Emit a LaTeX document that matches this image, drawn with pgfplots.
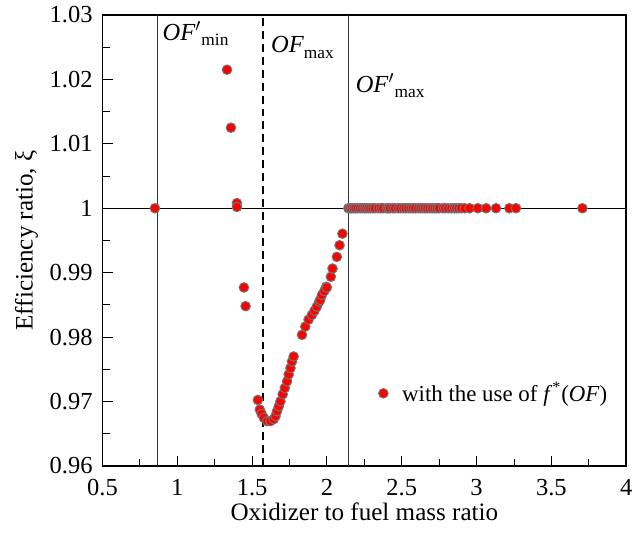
\documentclass[border=0pt]{standalone}
\usepackage{fontspec}
\setmainfont{Liberation Serif}
\usepackage{pgfplots}
\pgfplotsset{compat=1.18}
\begin{document}
\begin{tikzpicture}
\begin{axis}[
  name=ax,
  scale only axis,
  width=263pt, height=226.5pt,
  xmin=0.5, xmax=4, ymin=0.96, ymax=1.03,
  xtick={0.5,1,...,4},
  ytick={0.96,0.97,...,1.03},
  minor x tick num=1, minor y tick num=1,
  xtick pos=left, ytick pos=left,
  tick align=inside,
  major tick length=5pt, minor tick length=3.5pt,
  every tick/.style={black, line width=0.5pt},
  axis line style={line width=0.8pt},
  /pgf/number format/assume math mode=true,
  yticklabel style={/pgf/number format/fixed, /pgf/number format/precision=2, xshift=-1.5pt},
  xticklabel style={/pgf/number format/fixed, yshift=-3pt},
  tick label style={font=\fontsize{12.3}{14}\selectfont},
  label style={font=\fontsize{12.6}{15}\selectfont},
  xlabel={Oxidizer to fuel mass ratio},
  ylabel={Efficiency ratio, ξ},
  xlabel style={yshift=3pt},
  ylabel style={yshift=-1pt},
  clip=false,
  legend style={at={(0.515,0.161)}, anchor=west, draw=none, fill=none, font=\fontsize{11.5}{13}\selectfont},
  legend cell align=left,
]
\addplot[black, line width=0.5pt, forget plot] coordinates {(0.5,1) (4,1)};
\addplot[black!80, line width=0.5pt, forget plot] coordinates {(0.866,0.96) (0.866,1.03)};
\addplot[black!80, line width=0.5pt, forget plot] coordinates {(2.143,0.96) (2.143,1.03)};
\addplot[black, line width=0.8pt, dash pattern=on 4pt off 2.5pt, forget plot] coordinates {(1.571,0.96) (1.571,1.03)};
\addplot[only marks, mark=*, mark size=2.4pt, mark options={fill=red, draw=black!55, line width=0.5pt}] coordinates {
(0.850,1.0000)
(1.332,1.0215) (1.358,1.0125) (1.398,1.0008) (1.398,1.0002) (1.445,0.9877) (1.456,0.9848)
(1.538,0.97024) (1.551,0.96875) (1.563,0.96808) (1.578,0.96746) (1.600,0.96695) (1.622,0.96695)
(1.644,0.96726) (1.656,0.96774) (1.666,0.96850) (1.678,0.96927) (1.689,0.97004) (1.704,0.97112)
(1.718,0.97210) (1.733,0.97313) (1.744,0.97421) (1.756,0.97519) (1.766,0.97622) (1.777,0.97699)
(1.833,0.98035) (1.855,0.98163) (1.877,0.98271) (1.899,0.98344) (1.917,0.98410) (1.932,0.98472)
(1.948,0.98549) (1.955,0.98576) (1.966,0.98653) (1.982,0.98715) (1.995,0.98781) (1.999,0.98770)
(2.026,0.98936) (2.037,0.99064) (2.066,0.99245) (2.084,0.99426) (2.103,0.99605)
(2.143,1) (2.155,1) (2.165,1) (2.177,1) (2.190,1) (2.205,1) (2.221,1) (2.235,1) (2.250,1)
(2.263,1) (2.276,1) (2.290,1) (2.305,1) (2.320,1) (2.343,1) (2.360,1) (2.375,1) (2.398,1)
(2.410,1) (2.421,1) (2.440,1) (2.455,1) (2.476,1) (2.490,1) (2.510,1) (2.525,1) (2.543,1)
(2.560,1) (2.575,1) (2.590,1) (2.609,1) (2.625,1) (2.640,1) (2.654,1) (2.670,1) (2.687,1)
(2.703,1) (2.720,1) (2.735,1) (2.750,1) (2.775,1) (2.790,1) (2.810,1) (2.831,1) (2.850,1)
(2.864,1) (2.880,1) (2.897,1) (2.920,1) (2.953,1) (3.008,1) (3.064,1) (3.130,1) (3.219,1)
(3.263,1) (3.707,1)
};
\addlegendentry{\hspace{5pt}with the use of \textit{f}\textsuperscript{*}(\textit{OF})}
\node[anchor=base west, inner sep=0pt, font=\fontsize{12.3}{14}\selectfont] at (axis cs:0.899,1.0261) {\textit{OF}$'$\raisebox{-0.5ex}{\fontsize{8.7}{10}\selectfont min}};
\node[anchor=base west, inner sep=0pt, font=\fontsize{12.3}{14}\selectfont] at (axis cs:1.624,1.0241) {\textit{OF}\raisebox{-0.5ex}{\fontsize{8.7}{10}\selectfont max}};
\node[anchor=base west, inner sep=0pt, font=\fontsize{12.3}{14}\selectfont] at (axis cs:2.19,1.018) {\textit{OF}$'$\raisebox{-0.5ex}{\fontsize{8.7}{10}\selectfont max}};
\end{axis}
\path (ax.south west) ++(-51.5pt,-37.5pt);
\path (ax.north east) ++(5pt,6pt);
\end{tikzpicture}
\end{document}
